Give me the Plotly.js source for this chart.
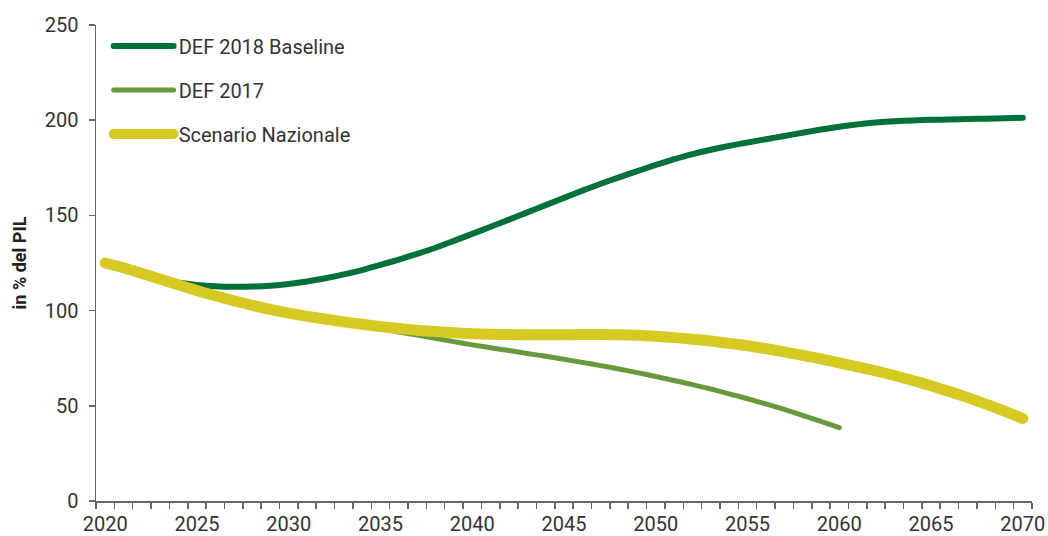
<!DOCTYPE html>
<html>
<head>
<meta charset="utf-8">
<script src="https://cdn.plot.ly/plotly-3.0.1.min.js"></script>
<style>html,body{margin:0;padding:0;background:#fff;}#chart{width:1048px;height:536px;}
#chart path.js-line{stroke-linecap:round !important;}
#chart .legendlines path{stroke-linecap:round !important;}</style>
</head>
<body>
<div id="chart"></div>
<script>
// Years 2020..2070
const years = [2020,2021,2022,2023,2024,2025,2026,2027,2028,2029,2030,2031,2032,2033,2034,2035,2036,2037,2038,2039,2040,2041,2042,2043,2044,2045,2046,2047,2048,2049,2050,2051,2052,2053,2054,2055,2056,2057,2058,2059,2060,2061,2062,2063,2064,2065,2066,2067,2068,2069,2070];

const def2018Baseline = [125,121.5,118.5,116.2,114.6,113.5,112.8,112.5,112.6,113.1,114,115.3,117,119,121.3,124,126.8,129.8,133,136.6,140.3,144,147.8,151.6,155.4,159.2,163,166.6,170,173.3,176.5,179.5,182.2,184.5,186.5,188.3,190,191.7,193.4,195.1,196.6,197.8,198.8,199.5,199.9,200.2,200.4,200.6,200.8,201.0,201.3];

const def2017Years = [2020,2021,2022,2023,2024,2025,2026,2027,2028,2029,2030,2031,2032,2033,2034,2035,2036,2037,2038,2039,2040,2041,2042,2043,2044,2045,2046,2047,2048,2049,2050,2051,2052,2053,2054,2055,2056,2057,2058,2059,2060];
const def2017 = [125,122.5,119.5,116.5,113.5,110.5,107.8,105.2,102.8,100.6,98.7,97,95.4,93.8,92.2,90.5,88.8,87.1,85.4,83.7,82,80.5,79,77.5,76,74.4,72.8,71.1,69.3,67.4,65.4,63.3,61.1,58.8,56.3,53.7,51,48.1,45,41.8,38.5];

const scenarioNazionale = [125,122.5,119.5,116.5,113.5,110.5,107.8,105.2,102.8,100.6,98.7,97,95.5,94.1,92.8,91.6,90.6,89.7,89,88.4,87.9,87.6,87.4,87.3,87.3,87.3,87.4,87.4,87.3,87,86.5,85.8,85,84,82.8,81.5,80,78.3,76.5,74.6,72.6,70.5,68.3,65.9,63.3,60.5,57.5,54.3,50.9,47.2,43.3];

const seriesNames = ['DEF 2018 Baseline','DEF 2017','Scenario Nazionale'];
const yTicks = [0,50,100,150,200,250];
const xTickLabels = [2020,2025,2030,2035,2040,2045,2050,2055,2060,2065,2070];
const yTitle = 'in % del PIL';

const FONT = 'Roboto, "Liberation Sans", Arial, sans-serif';
const minorVals = years.map(y => y - 0.5).concat([years[years.length-1] + 0.5]);

const traces = [
  {x: years, y: def2018Baseline, name: seriesNames[0], type: 'scatter', mode: 'lines',
   line: {color: '#007139', width: 6, shape: 'spline', smoothing: 0.6}, legendgroup: 'a'},
  {x: def2017Years, y: def2017, name: seriesNames[1], type: 'scatter', mode: 'lines',
   line: {color: '#679a3d', width: 5, shape: 'spline', smoothing: 0.6}, legendgroup: 'b'},
  {x: years, y: scenarioNazionale, name: seriesNames[2], type: 'scatter', mode: 'lines',
   line: {color: '#d5c922', width: 11, shape: 'spline', smoothing: 0.6}, legendgroup: 'c'}
];

const layout = {
  width: 1048, height: 536,
  margin: {l: 96, r: 16, t: 25, b: 35},
  paper_bgcolor: '#fff', plot_bgcolor: '#fff',
  font: {family: FONT, size: 20, color: '#333'},
  showlegend: true,
  legend: {x: 0.0135, y: 0.997, xanchor: 'left', yanchor: 'top', traceorder: 'grouped',
           tracegroupgap: 15, itemwidth: 60, font: {family: FONT, size: 20, color: '#333'},
           bgcolor: 'rgba(0,0,0,0)'},
  xaxis: {
    range: [years[0] - 0.5, years[years.length-1] + 0.5],
    tickmode: 'array', tickvals: xTickLabels, ticktext: xTickLabels.map(String),
    ticks: '', showgrid: false, zeroline: false,
    showline: true, linecolor: '#666', linewidth: 1.5,
    tickfont: {family: FONT, size: 20, color: '#333'}, ticklabelstandoff: 4,
    minor: {tickmode: 'array', tickvals: minorVals, ticks: 'outside', ticklen: 6,
            tickcolor: '#666', tickwidth: 1.5, showgrid: false}
  },
  yaxis: {
    range: [0, 250], tickmode: 'array', tickvals: yTicks,
    ticks: 'outside', ticklen: 6, tickcolor: '#666', tickwidth: 1.5,
    showgrid: false, zeroline: false, showline: true, linecolor: '#666', linewidth: 1.5,
    tickfont: {family: FONT, size: 20, color: '#333'}, ticklabelstandoff: 6,
    title: {text: '<b>' + yTitle + '</b>', font: {family: FONT, size: 18, color: '#222'}, standoff: 13}
  }
};

Plotly.newPlot('chart', traces, layout, {displayModeBar: false, staticPlot: true});
</script>
</body>
</html>
